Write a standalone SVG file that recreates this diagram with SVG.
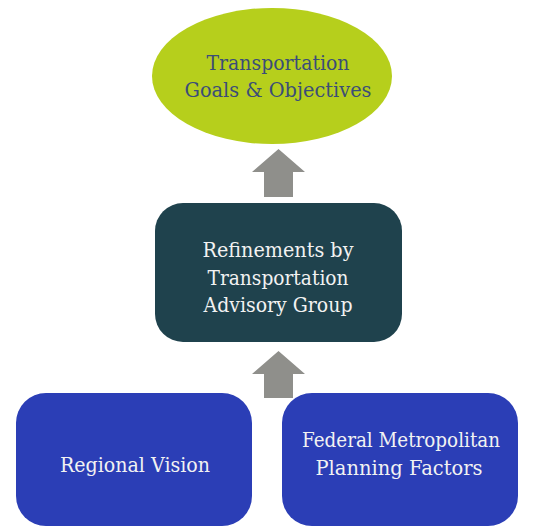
<svg xmlns="http://www.w3.org/2000/svg" width="543" height="527" viewBox="0 0 543 527">
<style>
.t{font-family:"DejaVu Serif","Liberation Serif",serif;font-size:20px;text-anchor:middle}
.w{fill:#f2f2f2}
.arrow{fill:#8f8f8b}
</style>
<rect width="543" height="527" fill="#ffffff"/>
<g id="connectors">
<path class="arrow" d="M278.5,149 L305,172 L293,172 L293,197 L264,197 L264,172 L252,172 Z"/>
<path class="arrow" d="M278.5,351 L305,374 L293,374 L293,398 L264,398 L264,374 L252,374 Z"/>
</g>
<g id="goals">
<ellipse cx="272" cy="76" rx="120" ry="68" fill="#b6cf1c"/>
<text class="t" x="278" y="70" fill="#3b4d78" textLength="143" lengthAdjust="spacingAndGlyphs">Transportation</text>
<text class="t" x="278" y="97" fill="#3b4d78" textLength="187" lengthAdjust="spacingAndGlyphs">Goals &amp; Objectives</text>
</g>
<g id="refinements">
<rect x="155" y="203" width="247" height="139" rx="28" fill="#1f424d"/>
<text class="t w" x="278" y="257" textLength="151" lengthAdjust="spacingAndGlyphs">Refinements by</text>
<text class="t w" x="278" y="285" textLength="141" lengthAdjust="spacingAndGlyphs">Transportation</text>
<text class="t w" x="278" y="312" textLength="149" lengthAdjust="spacingAndGlyphs">Advisory Group</text>
</g>
<g id="regional">
<rect x="16" y="393" width="236" height="133" rx="30" fill="#2b3eb6"/>
<text class="t w" x="135" y="472" textLength="150" lengthAdjust="spacingAndGlyphs">Regional Vision</text>
</g>
<g id="federal">
<rect x="282" y="393" width="236" height="133" rx="30" fill="#2b3eb6"/>
<text class="t w" x="401" y="447" textLength="198" lengthAdjust="spacingAndGlyphs">Federal Metropolitan</text>
<text class="t w" x="399" y="475" textLength="167" lengthAdjust="spacingAndGlyphs">Planning Factors</text>
</g>
</svg>
